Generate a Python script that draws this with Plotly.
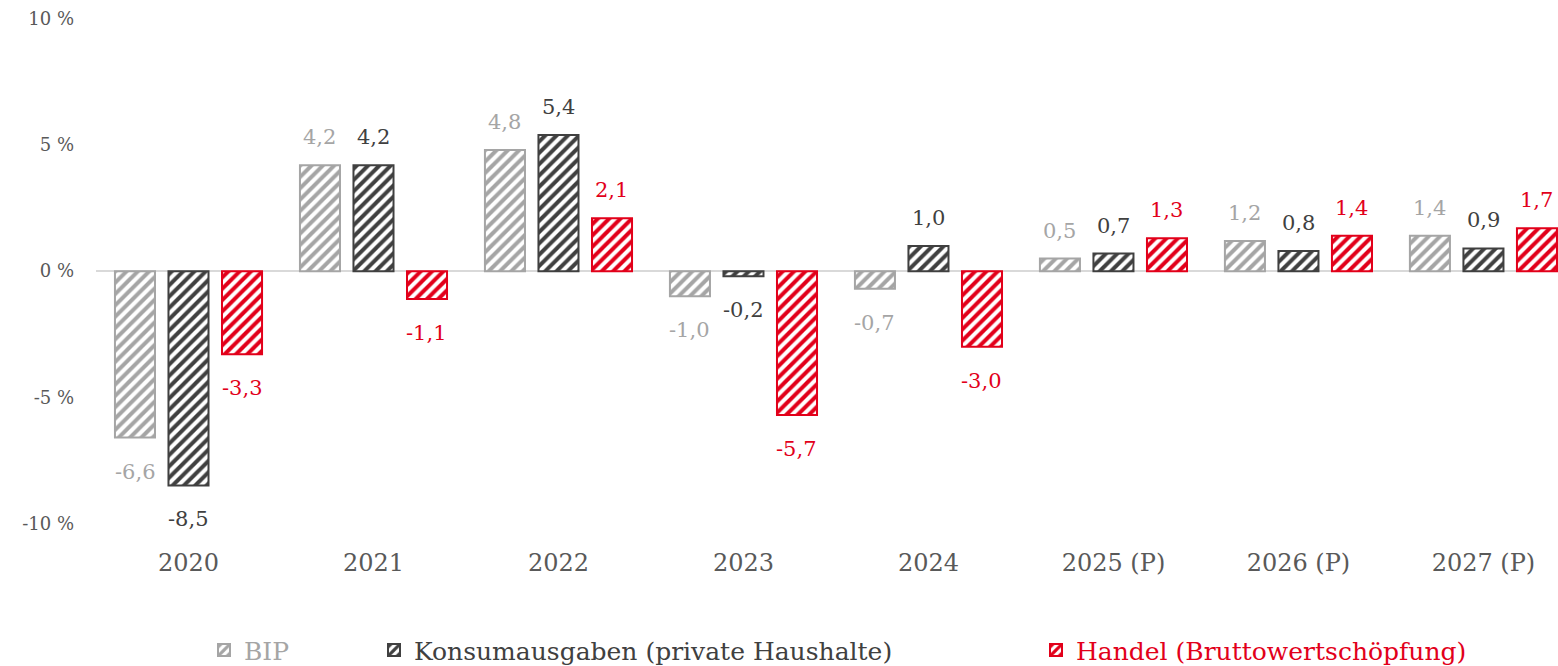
import plotly.graph_objects as go

categories = ["2020", "2021", "2022", "2023", "2024", "2025 (P)", "2026 (P)", "2027 (P)"]
bip = [-6.6, 4.2, 4.8, -1.0, -0.7, 0.5, 1.2, 1.4]
konsum = [-8.5, 4.2, 5.4, -0.2, 1.0, 0.7, 0.8, 0.9]
handel = [-3.3, -1.1, 2.1, -5.7, -3.0, 1.3, 1.4, 1.7]

series_names = ["BIP", "Konsumausgaben (private Haushalte)", "Handel (Bruttowertschöpfung)"]
series_values = [bip, konsum, handel]
colors = ["#A5A5A5", "#404040", "#E2001A"]

y_tickvals = [-10, -5, 0, 5, 10]
y_ticktext = ["-10 %", "-5 %", "0 %", "5 %", "10 %"]

FONT = "DejaVu Serif"
W, H = 1558, 666

fig = go.Figure()
legend_ids = ["legend", "legend2", "legend3"]
for name, vals, col, lid in zip(series_names, series_values, colors, legend_ids):
    fig.add_trace(go.Bar(
        x=categories, y=vals, name=name, legend=lid,
        marker=dict(color="white",
                    line=dict(color=col, width=2),
                    pattern=dict(shape="/", fgcolor=col, bgcolor="white",
                                 fgopacity=1, size=8, solidity=0.5,
                                 fillmode="replace")),
    ))

# data labels
slot_px = 53.5
for si, (vals, col) in enumerate(zip(series_values, colors)):
    for ci, v in enumerate(vals):
        fig.add_annotation(
            x=ci, y=v, xref="x", yref="y",
            text=f"{v:.1f}".replace(".", ","),
            showarrow=False, xshift=(si - 1) * slot_px,
            yshift=28 if v >= 0 else -34, yanchor="middle",
            font=dict(family=FONT, size=21, color=col),
        )

# plot area geometry (px)
top_px, bottom_px = 19, 545.7
plot_h = bottom_px - top_px
legend_y_px = 650
legend_x = [204, 374, 1036]
layout_legends = {}
for lid, lx, col in zip(legend_ids, legend_x, colors):
    layout_legends[lid] = dict(
        orientation="h", xref="paper", yref="paper",
        xanchor="left", yanchor="middle",
        x=(lx - 96) / (W - 96), y=-(legend_y_px - bottom_px) / plot_h,
        font=dict(family=FONT, size=25, color=col), itemwidth=30,
        bgcolor="rgba(0,0,0,0)")

fig.update_layout(
    width=W, height=H,
    margin=dict(l=96, r=0, t=top_px, b=H - bottom_px, autoexpand=False),
    plot_bgcolor="white", paper_bgcolor="white",
    barmode="group", bargap=0.132, bargroupgap=0.252,
    showlegend=True,
    xaxis=dict(type="category", range=[-0.5, 7.403], showgrid=False, showline=False,
               ticks="", automargin=False,
               tickfont=dict(family=FONT, size=24, color="#595959")),
    yaxis=dict(range=[-10.9, 10], tickvals=y_tickvals, ticktext=y_ticktext,
               showgrid=False, showline=False, zeroline=True,
               zerolinecolor="#D9D9D9", zerolinewidth=2,
               ticks="", ticklabelstandoff=21, automargin=False,
               tickfont=dict(family=FONT, size=18, color="#595959")),
    **layout_legends,
)

fig.write_html("out.html", config={"displayModeBar": False},
               post_script="document.body.style.margin='0';document.body.style.overflow='hidden';")
